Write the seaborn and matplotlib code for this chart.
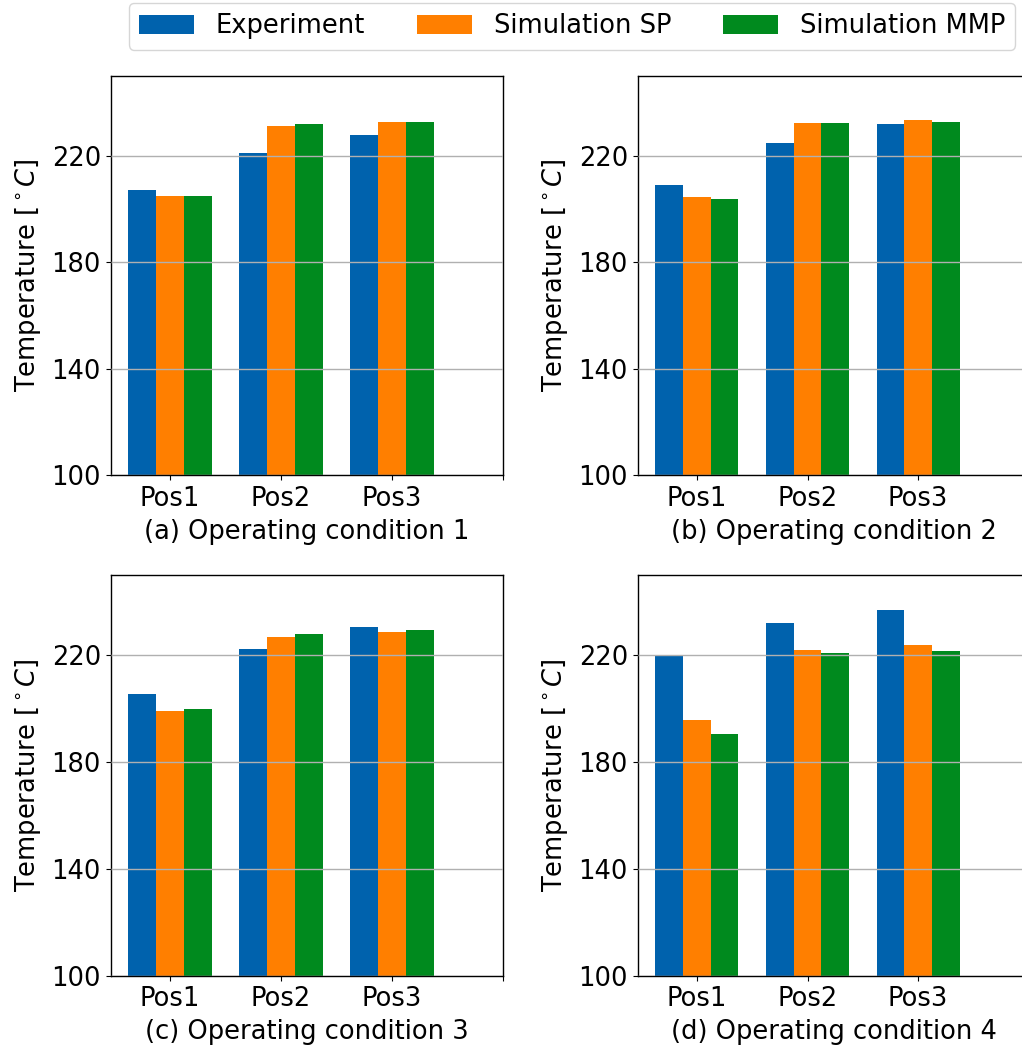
import matplotlib
matplotlib.use("Agg")
import matplotlib.pyplot as plt
from matplotlib.patches import Patch
import pandas as pd
import seaborn as sns

# Measured temperatures (deg C) at three positions for four operating conditions
positions = ["Pos1", "Pos2", "Pos3"]
series_names = ["Experiment", "Simulation SP", "Simulation MMP"]
panel_titles = [
    "(a) Operating condition 1",
    "(b) Operating condition 2",
    "(c) Operating condition 3",
    "(d) Operating condition 4",
]

cond1_experiment = [207.0, 220.8, 227.9]
cond1_sim_sp = [205.0, 231.3, 232.8]
cond1_sim_mmp = [205.0, 231.9, 232.8]

cond2_experiment = [209.0, 224.8, 231.9]
cond2_sim_sp = [204.5, 232.3, 233.3]
cond2_sim_mmp = [203.9, 232.3, 232.8]

cond3_experiment = [205.5, 222.3, 230.4]
cond3_sim_sp = [198.9, 226.9, 228.5]
cond3_sim_mmp = [199.9, 227.9, 229.3]

cond4_experiment = [219.8, 232.0, 237.0]
cond4_sim_sp = [195.7, 221.8, 223.8]
cond4_sim_mmp = [190.3, 220.9, 221.4]

conditions = [
    (cond1_experiment, cond1_sim_sp, cond1_sim_mmp),
    (cond2_experiment, cond2_sim_sp, cond2_sim_mmp),
    (cond3_experiment, cond3_sim_sp, cond3_sim_mmp),
    (cond4_experiment, cond4_sim_sp, cond4_sim_mmp),
]

colors = ["#0062ad", "#ff7f00", "#008a1e"]
palette = dict(zip(series_names, colors))

FS = 18.5
plt.rcParams["font.family"] = ["DejaVu Sans"]
plt.rcParams["font.size"] = FS

W, H = 1022, 1050
fig = plt.figure(figsize=(W / 100, H / 100), dpi=100)

# axes boxes in pixel coordinates: (left, top, right, bottom)
boxes = [
    (111.3, 75.7, 503.0, 475.3),
    (638.3, 75.7, 1028.7, 475.3),
    (111.3, 575.0, 503.0, 975.5),
    (638.3, 575.0, 1028.7, 975.5),
]

for (vals, title, box) in zip(conditions, panel_titles, boxes):
    l, t, r, b = box
    ax = fig.add_axes([l / W, 1 - b / H, (r - l) / W, (b - t) / H])
    rows = []
    for name, series in zip(series_names, vals):
        for pos, v in zip(positions, series):
            rows.append({"position": pos, "series": name, "temperature": v})
    df = pd.DataFrame(rows)
    sns.barplot(
        data=df, x="position", y="temperature", hue="series",
        order=positions, hue_order=series_names, palette=palette,
        width=0.75, saturation=1, errorbar=None, legend=False, ax=ax,
        linewidth=0,
    )
    ax.set_ylim(100, 250)
    ax.set_yticks([100, 140, 180, 220])
    ax.set_xticks([0, 1, 2, 3])
    ax.set_xticklabels(positions + [""])
    ax.set_xlim(-0.53, 3.0)
    ax.set_axisbelow(False)
    ax.yaxis.grid(True, color="#b0b0b0", linewidth=1.0)
    ax.xaxis.grid(False)
    ax.tick_params(labelsize=FS, pad=4)
    ax.set_xlabel(title, fontsize=FS, labelpad=5)
    ax.set_ylabel(r"Temperature [$^\circ C$]", fontsize=FS, labelpad=6)
    for s in ax.spines.values():
        s.set_linewidth(1.0)

handles = [Patch(facecolor=c, edgecolor="none") for c in colors]
fig.legend(
    handles, series_names, ncol=3, loc="upper center",
    bbox_to_anchor=(572 / W, 1 - 3 / H), fontsize=FS, borderaxespad=0,
    handlelength=2.15, handleheight=0.75, handletextpad=0.85,
    columnspacing=2.0, frameon=True, fancybox=True, borderpad=0.4,
)

fig.savefig("out.png", dpi=100)
